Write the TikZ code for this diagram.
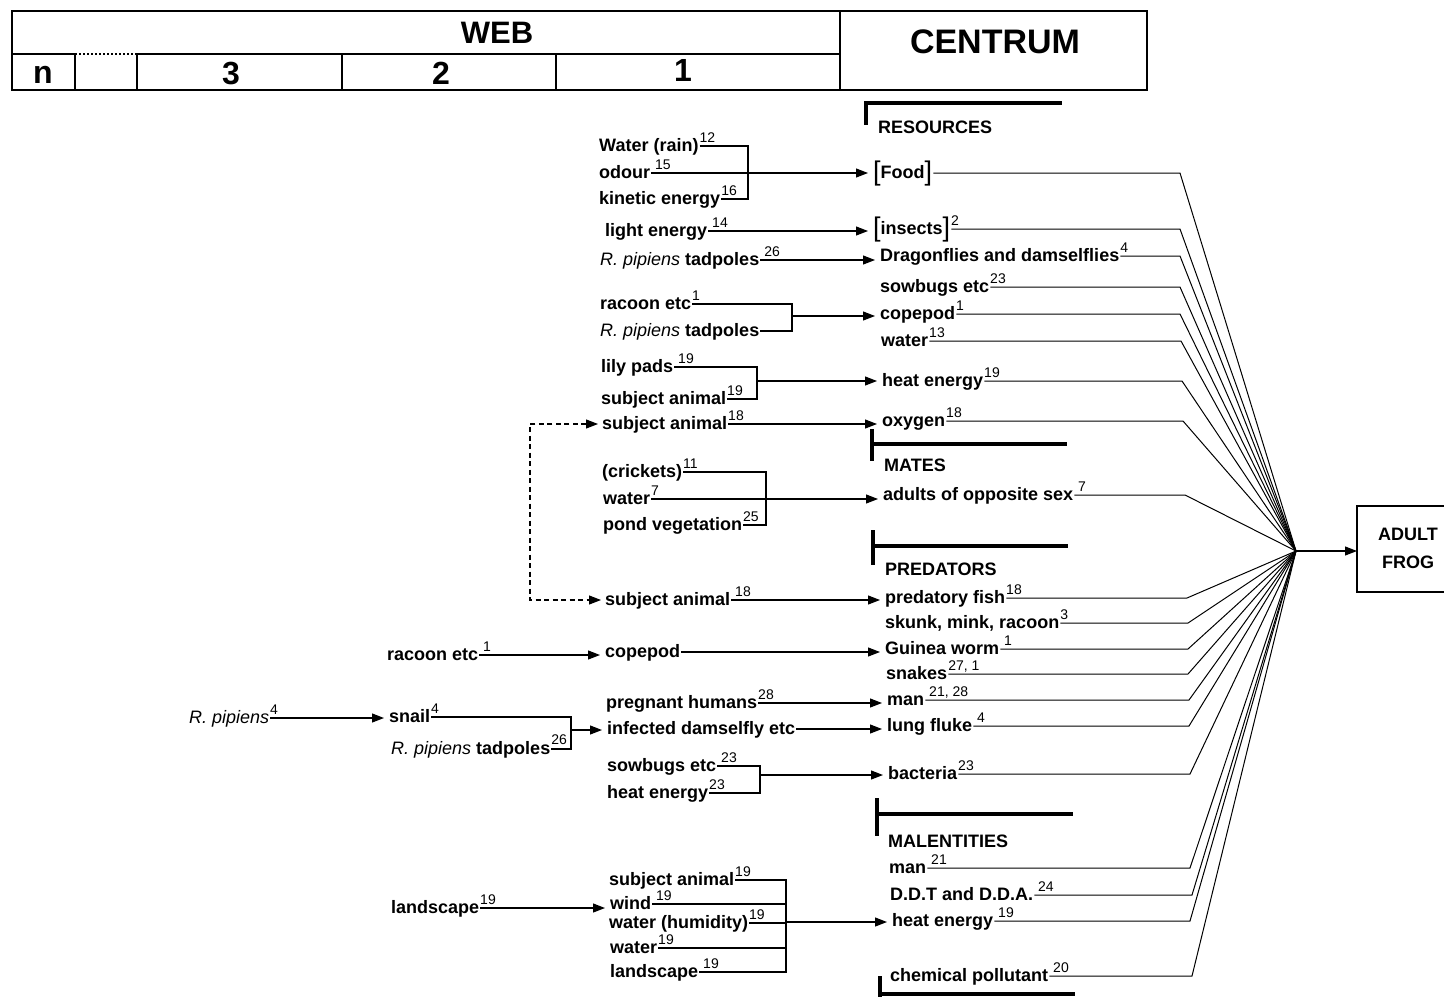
\documentclass[tikz,border=0pt]{standalone}
\usepackage{fontspec}
\setmainfont{Liberation Sans}
\usetikzlibrary{arrows.meta}

% label font, footnote numbers, species name and bracketed items
\newcommand\lbf{\fontsize{18}{20}\selectfont\bfseries}
\newcommand\nt[1]{\rlap{\kern1pt\raisebox{8.4pt}{\fontsize{14}{14}\selectfont\mdseries #1}}}
\newcommand\nts[1]{\rlap{\kern5pt\raisebox{8.4pt}{\fontsize{14}{14}\selectfont\mdseries #1}}}
\newcommand\rp{{\mdseries\itshape R. pipiens}}
\newcommand\bkl{\raisebox{-2.5pt}{\mdseries\fontsize{27}{27}\selectfont[}}
\newcommand\bkr{\raisebox{-2.5pt}{\mdseries\fontsize{27}{27}\selectfont]}}

\tikzset{
  lbl/.style={anchor=west, inner sep=1pt, text height=12.5pt, text depth=2.3pt, font=\lbf},
  sect/.style={anchor=west, inner sep=0pt, font=\lbf},
  big/.style={inner sep=0pt, font=\fontsize{32}{34}\selectfont\bfseries},
  ln/.style={line width=1.1pt},
  tip/.style={-{Triangle[length=12pt,width=9pt]}},
  arr/.style={line width=1.1pt, tip, shorten >=4pt},
  fan/.style={line width=1pt},
  bar/.style={line width=4.5pt},
  frame/.style={line width=1.4pt}
}

\begin{document}
\begin{tikzpicture}[x=1pt,y=-1pt]
\useasboundingbox (0,0) rectangle (1444,997);

% ---------- header table ----------
\draw[frame] (12,11) rectangle (1147,90);
\draw[frame] (840,11) -- (840,90);
\draw[frame] (12,54) -- (75,54);
\draw[frame, dash pattern=on 2pt off 2pt] (75,54) -- (137,54);
\draw[frame] (137,54) -- (840,54);
\foreach \x in {75,137,342,556} \draw[frame] (\x,54) -- (\x,90);
\node[big, font=\fontsize{31}{33}\selectfont\bfseries] (web) at (497,33) {WEB};
\node[big, font=\fontsize{34}{36}\selectfont\bfseries] (centrum) at (995,42) {CENTRUM};
\node[big] (cn) at (43,75) {n};
\node[big] (c3) at (231,74) {3};
\node[big] (c2) at (441,73) {2};
\node[big] (c1) at (683,70) {1};

% ---------- section headings ----------
\draw[bar] (866,103) -- (1062,103);
\draw[bar] (866,101) -- (866,125);
\node[sect] (resources) at (878,127) {RESOURCES};
\draw[bar] (872,444) -- (1067,444);
\draw[bar] (872,429) -- (872,461);
\node[sect] (mates) at (884,465) {MATES};
\draw[bar] (873,546) -- (1068,546);
\draw[bar] (873,530) -- (873,565);
\node[sect] (predators) at (885,569) {PREDATORS};
\draw[bar] (877,814) -- (1073,814);
\draw[bar] (877,798) -- (877,836);
\node[sect] (malentities) at (888,841) {MALENTITIES};
\draw[bar] (880,994) -- (1075,994);
\draw[bar] (880,976) -- (880,997);

% ---------- centrum items ----------
\node[lbl] (food)     at (872,173) {\bkl Food\bkr};
\node[lbl] (insects)  at (872,229) {\bkl insects\bkr\nt{2}};
\node[lbl] (dragon)   at (879,256) {Dragonflies and damselflies\nt{4}};
\node[lbl] (sowbugs)  at (879,287) {sowbugs etc\nt{23}};
\node[lbl] (copepodA) at (879,314) {copepod\nt{1}};
\node[lbl] (waterA)   at (880,341) {water\nt{13}};
\node[lbl] (heatA)    at (881,381) {heat energy\nt{19}};
\node[lbl] (oxygen)   at (881,421) {oxygen\nt{18}};
\node[lbl] (adults)   at (882,495) {adults of opposite sex\nts{7}};
\node[lbl] (fish)     at (884,598) {predatory fish\nt{18}};
\node[lbl] (skunk)    at (884,623) {skunk, mink, racoon\nt{3}};
\node[lbl] (guinea)   at (884,649) {Guinea worm\nts{1}};
\node[lbl] (snakes)   at (885,674) {snakes\nt{27, 1}};
\node[lbl] (manA)     at (886,700) {man\nts{21, 28}};
\node[lbl] (fluke)    at (886,726) {lung fluke\nts{4}};
\node[lbl] (bacteria) at (887,774) {bacteria\nt{23}};
\node[lbl] (manB)     at (888,868) {man\nts{21}};
\node[lbl] (ddt)      at (889,895) {D.D.T and D.D.A.\nts{24}};
\node[lbl] (heatB)    at (891,921) {heat energy\nts{19}};
\node[lbl] (chem)     at (889,976) {chemical pollutant\nts{20}};

% ---------- web level 1 ----------
\node[lbl] (waterrain) at (598,146) {Water (rain)\nt{12}};
\node[lbl] (odour)     at (598,173) {odour\nts{15}};
\node[lbl] (kinetic)   at (598,199) {kinetic energy\nt{16}};
\node[lbl] (light)     at (604,231) {light energy\nts{14}};
\node[lbl] (rpt1)      at (599,260) {\rp{} tadpoles\nts{26}};
\node[lbl] (racoonA)   at (599,304) {racoon etc\nt{1}};
\node[lbl] (rpt2)      at (599,331) {\rp{} tadpoles};
\node[lbl] (lily)      at (600,367) {lily pads\nts{19}};
\node[lbl] (subjA)     at (600,399) {subject animal\nt{19}};
\node[lbl] (subjB)     at (601,424) {subject animal\nt{18}};
\node[lbl] (crickets)  at (601,472) {(crickets)\nt{11}};
\node[lbl] (waterB)    at (602,499) {water\nt{7}};
\node[lbl] (pond)      at (602,525) {pond vegetation\nt{25}};
\node[lbl] (subjC)     at (604,600) {subject animal\nts{18}};
\node[lbl] (copepodB)  at (604,652) {copepod};
\node[lbl] (pregnant)  at (605,703) {pregnant humans\nt{28}};
\node[lbl] (infected)  at (606,729) {infected damselfly etc};
\node[lbl] (sowbugsB)  at (606,766) {sowbugs etc\nts{23}};
\node[lbl] (heatC)     at (606,793) {heat energy\nt{23}};
\node[lbl] (subjD)     at (608,880) {subject animal\nt{19}};
\node[lbl] (wind)      at (609,904) {wind\nts{19}};
\node[lbl] (humid)     at (608,923) {water (humidity)\nt{19}};
\node[lbl] (waterC)    at (609,948) {water\nt{19}};
\node[lbl] (landB)     at (609,972) {landscape\nts{19}};

% ---------- web level 2 and 3 ----------
\node[lbl] (racoonB) at (386,655) {racoon etc\nts{1}};
\node[lbl] (snail)   at (388,717) {snail\nt{4}};
\node[lbl] (rpt3)    at (390,749) {\rp{} tadpoles\rlap{\kern1pt\raisebox{10pt}{\fontsize{14}{14}\selectfont\mdseries 26}}};
\node[lbl] (landA)   at (390,908) {landscape\nt{19}};
\node[lbl] (rp4)     at (188,718) {\rp\nt{4}};

% ---------- junction points ----------
\coordinate (j1) at (748,173);
\coordinate (j2) at (792,316);
\coordinate (j3) at (757,381);
\coordinate (j4) at (766,497);
\coordinate (j5) at (571,730);
\coordinate (j6) at (760,775);
\coordinate (j7) at (786,922);
\coordinate (dc) at (530,510);

% brackets joining several inputs
\draw[ln] (waterrain.east) -| (j1) |- (kinetic.east);
\draw[ln] (racoonA.east) -| (j2) |- (rpt2.east);
\draw[ln] (lily.east) -| (j3) |- (subjA.east);
\draw[ln] (crickets.east) -| (j4) |- (pond.east);
\draw[ln] (snail.east) -| (j5) |- (rpt3.east);
\draw[ln] (sowbugsB.east) -| (j6) |- (heatC.east);
\draw[ln] (subjD.east) -| (j7) |- (landB.east);
\draw[ln] (wind.east) -- (wind.east -| j7);
\draw[ln] (humid.east) -- (humid.east -| j7);
\draw[ln] (waterC.east) -- (waterC.east -| j7);

% arrows into the centrum
\draw[arr] (odour.east) -- (odour.east -| food.west);
\draw[arr] (light.east) -- (light.east -| insects.west);
\draw[arr] (rpt1.east) -- (rpt1.east -| dragon.west);
\draw[arr] (j2) -- (j2 -| copepodA.west);
\draw[arr] (j3) -- (j3 -| heatA.west);
\draw[arr] (subjB.east) -- (subjB.east -| oxygen.west);
\draw[arr] (waterB.east) -- (waterB.east -| adults.west);
\draw[arr] (subjC.east) -- (subjC.east -| fish.west);
\draw[arr] (copepodB.east) -- (copepodB.east -| guinea.west);
\draw[arr] (pregnant.east) -- (pregnant.east -| manA.west);
\draw[arr] (infected.east) -- (infected.east -| fluke.west);
\draw[arr] (j6) -- (j6 -| bacteria.west);
\draw[arr] (j7) -- (j7 -| heatB.west);

% arrows within the web
\draw[arr] (racoonB.east) -- (racoonB.east -| copepodB.west);
\draw[arr] (rp4.east) -- (rp4.east -| snail.west);
\draw[arr] (j5) -- (j5 -| infected.west);
\draw[arr] (landA.east) -- (landA.east -| wind.west);
\draw[line width=1.1pt, dash pattern=on 5pt off 3.5pt,
      {Triangle[length=12pt,width=9pt]}-{Triangle[length=12pt,width=9pt]},
      shorten >=3pt, shorten <=3pt]
  (subjB.west) -| (dc) |- (subjC.west);

% ---------- fan into the subject ----------
\coordinate (hub) at (1296,551);
\foreach \n/\bx in {food/1180, insects/1180, dragon/1180, sowbugs/1180, copepodA/1180,
    waterA/1181, heatA/1182, oxygen/1183, adults/1185, fish/1187, skunk/1188, guinea/1188,
    snakes/1188, manA/1189, fluke/1189, bacteria/1190, manB/1190, ddt/1192, heatB/1190, chem/1192}{
  \path (\bx,0) coordinate (bend);
  \draw[fan] (\n.east) -- (bend |- \n.east) -- (hub);
}

\node[font=\fontsize{18}{28}\selectfont\bfseries, align=center, inner sep=0pt] (frog) at (1408,548) {ADULT\\FROG};
\coordinate (fw) at (1357,551);
\draw[frame] (1444,506) -| (1357,592) -- (1444,592);
\draw[line width=1.1pt, tip] (hub) -- (fw);
\end{tikzpicture}
\end{document}
